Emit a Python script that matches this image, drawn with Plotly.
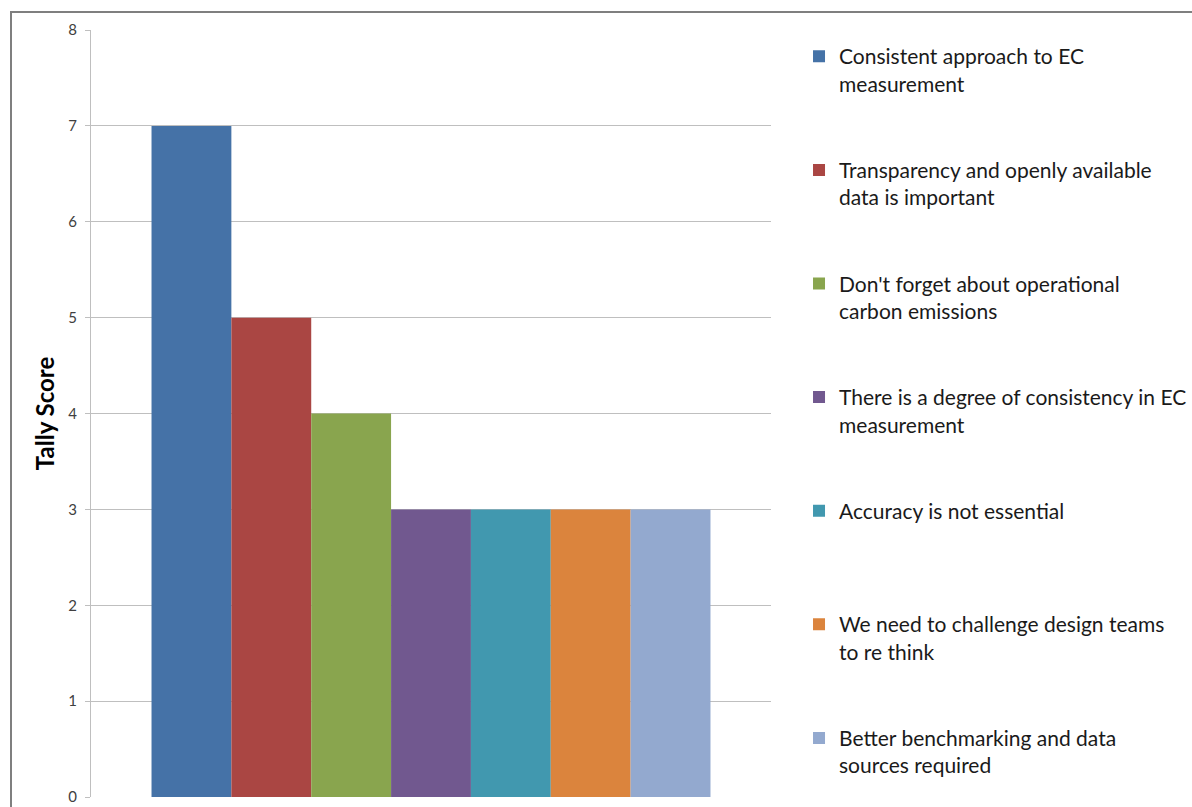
import plotly.graph_objects as go

category = [""]
series_names = [
    "Consistent approach to EC<br>measurement",
    "Transparency and openly available<br>data is important",
    "Don't forget about operational<br>carbon emissions",
    "There is a degree of consistency in EC<br>measurement",
    "Accuracy is not essential<br> ",
    "We need to challenge design teams<br>to re think",
    "Better benchmarking and data<br>sources required",
]
tally_scores = [7, 5, 4, 3, 3, 3, 3]
colors = ["#4572A7", "#AA4643", "#89A54E", "#71588F", "#4198AF", "#DB843D", "#93A9CF"]
y_ticks = [0, 1, 2, 3, 4, 5, 6, 7, 8]

fig = go.Figure()
for i, (name, val, col) in enumerate(zip(series_names, tally_scores, colors)):
    fig.add_trace(go.Bar(
        x=category, y=[val], name=name, marker=dict(color=col, line=dict(width=0)),
        legendgroup=f"g{i}",
    ))

fig.update_layout(
    width=1192, height=807,
    margin=dict(l=91, r=421, t=30, b=10, autoexpand=False),
    paper_bgcolor="white", plot_bgcolor="white",
    barmode="group", bargap=0.178, bargroupgap=0,
    font=dict(family="Lato", color="#000000"),
    legend=dict(
        x=1.0412, xanchor="left", y=0.992, yanchor="top",
        font=dict(family="Lato", size=21, color="#1a1a1a"),
        tracegroupgap=56, valign="top", bgcolor="rgba(0,0,0,0)",
        itemclick=False,
    ),
    showlegend=True,
)
fig.update_xaxes(showticklabels=False, showgrid=False, zeroline=False, showline=False, ticks="")
fig.update_yaxes(
    range=[0, 8], tickvals=y_ticks, ticktext=[str(v) for v in y_ticks],
    showgrid=True, gridcolor="#BFBFBF", gridwidth=1,
    showline=True, linecolor="#BFBFBF", linewidth=1,
    ticks="outside", ticklen=5, tickcolor="#BFBFBF",
    tickfont=dict(family="Lato", size=15, color="#404040"),
    ticklabelstandoff=5,
    zeroline=False,
    title=dict(text="<b>Tally Score</b>", font=dict(family="Lato", size=24, color="#000000"), standoff=6),
)
# outer chart border
fig.add_shape(type="rect", xref="paper", yref="paper",
              x0=-80/680, x1=1.8, y0=-0.1, y1=(797-12)/767,
              line=dict(color="#7F7F7F", width=2), fillcolor="rgba(0,0,0,0)", layer="below")

fig.write_html("out.html")
